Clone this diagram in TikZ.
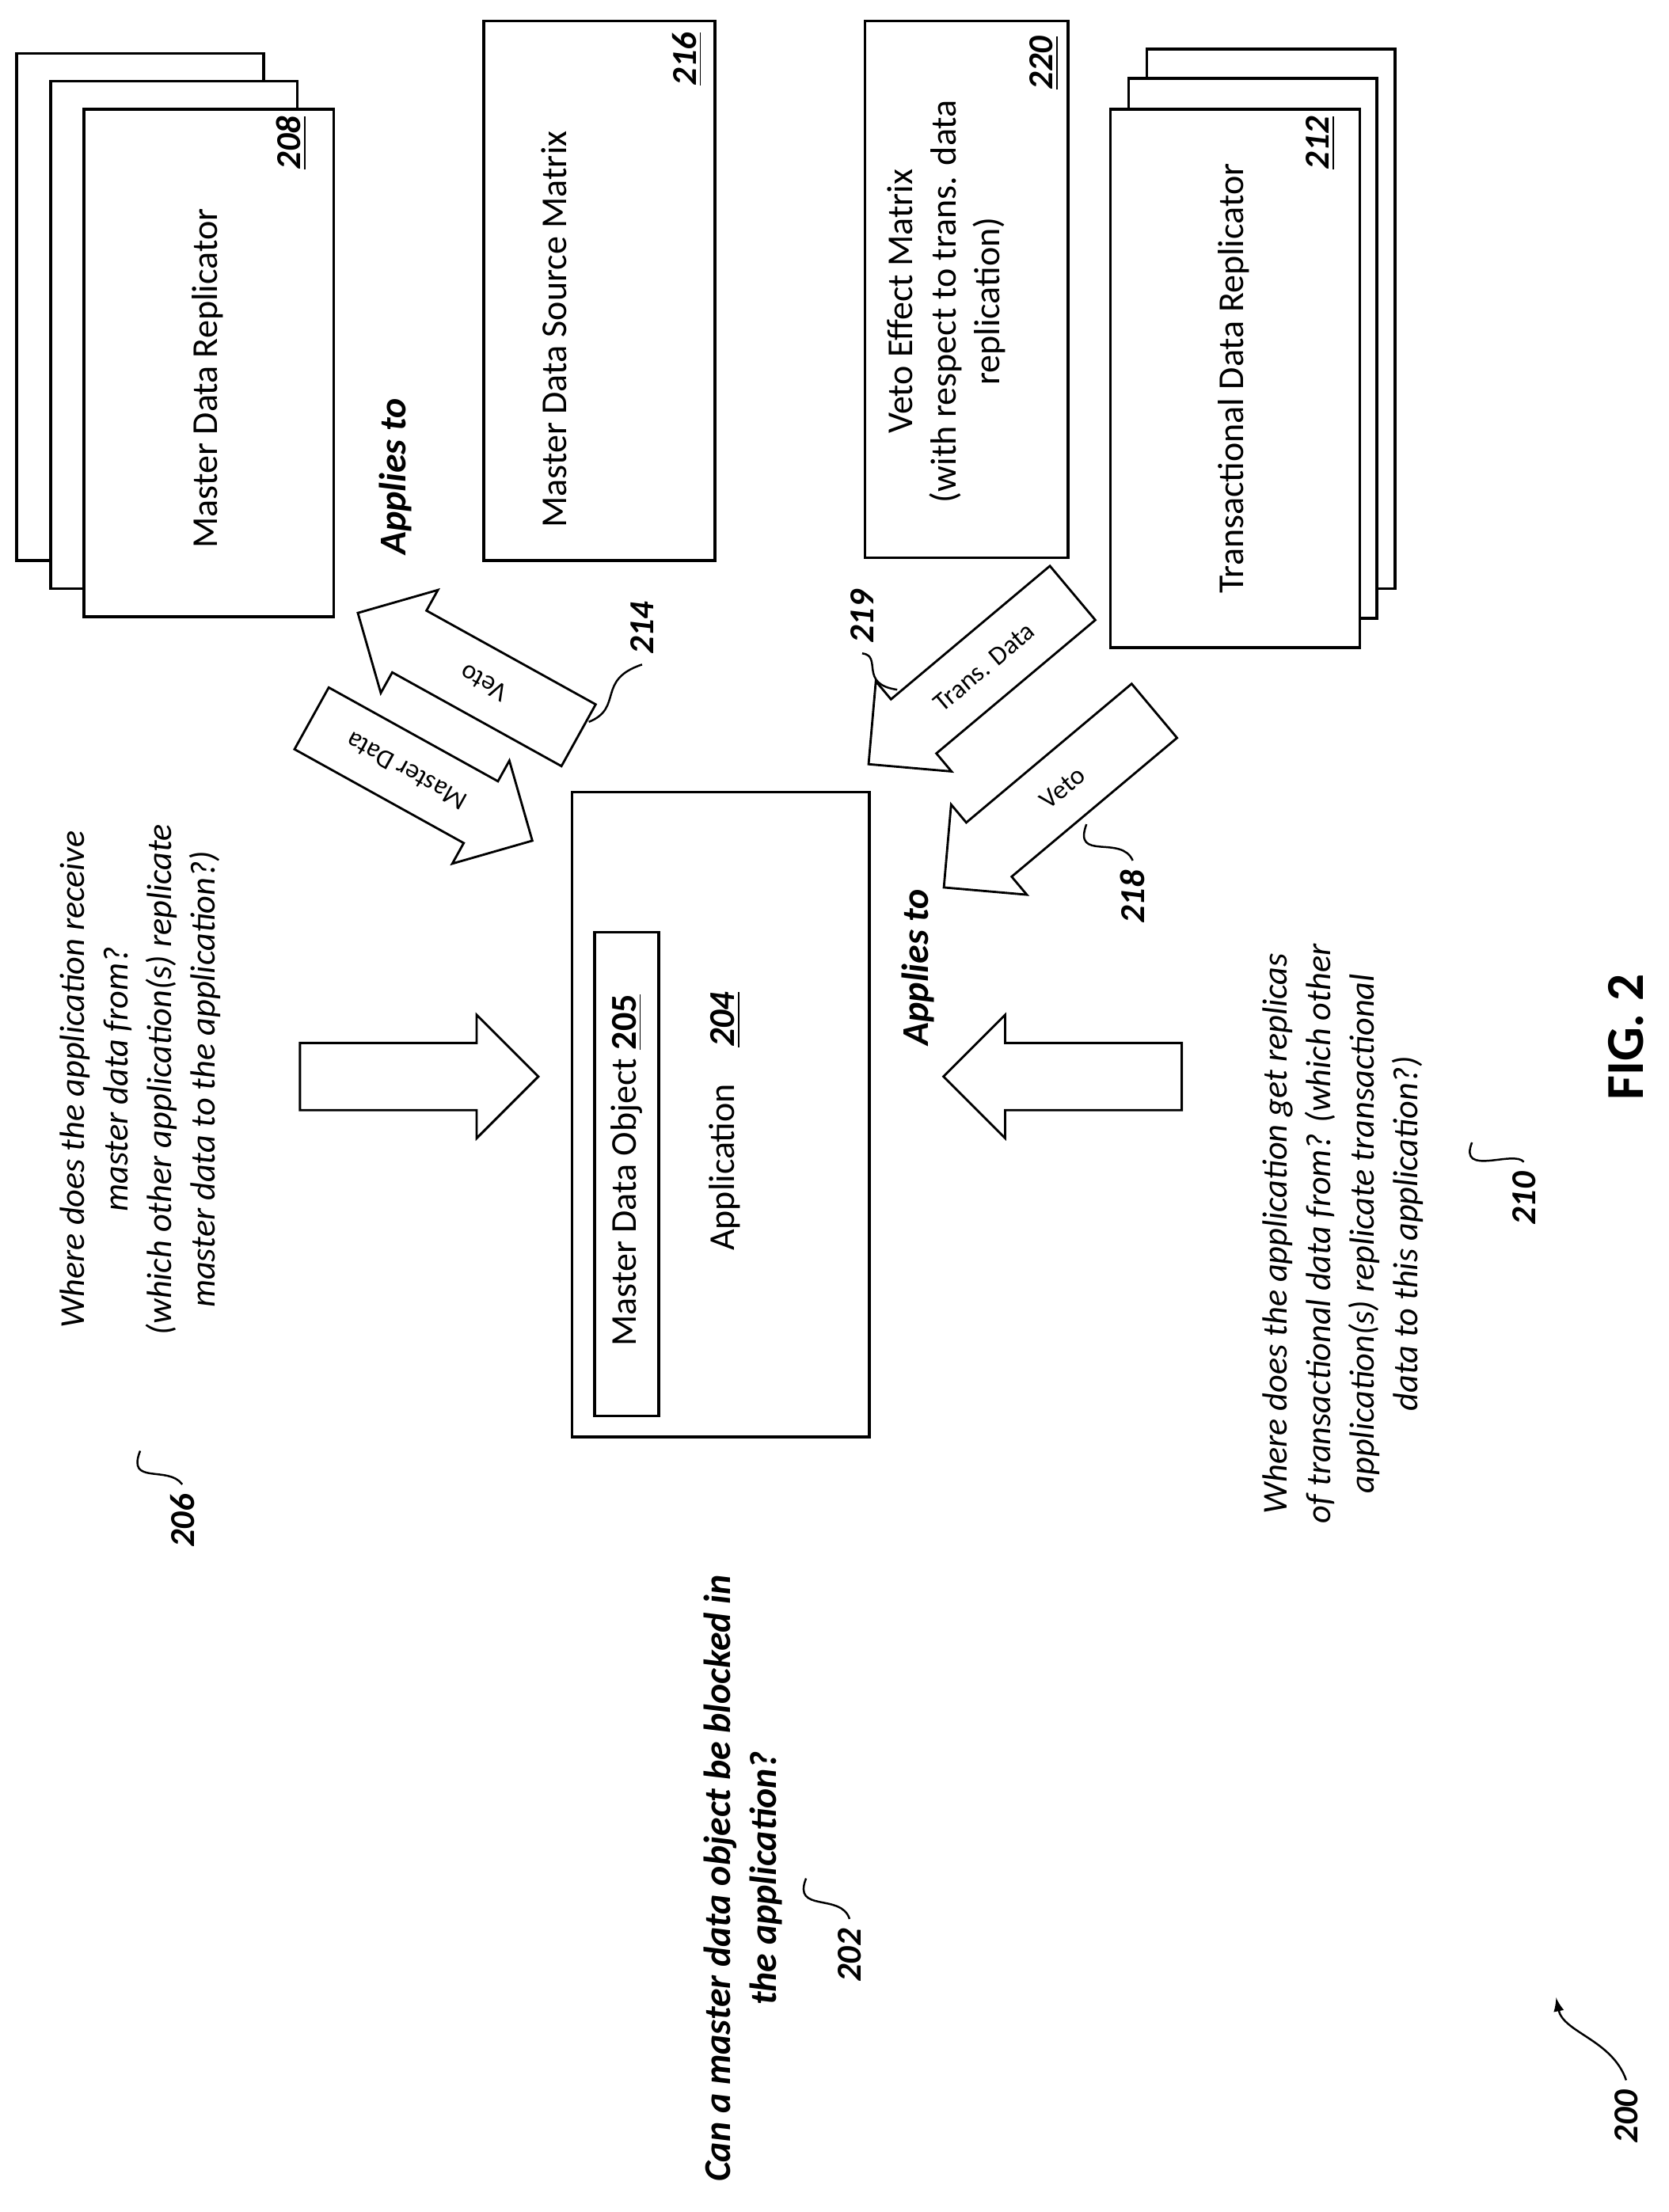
\documentclass[tikz,border=0pt]{standalone}
\usepackage{fontspec}
\setmainfont{Carlito}
\usetikzlibrary{shapes.arrows}
\begin{document}
\begin{tikzpicture}[x=0.5pt,y=-0.5pt,
 box/.style={draw,line width=1pt,fill=white},
 txt/.style={font=\fontsize{13}{15.5}\selectfont,rotate=90,align=center},
 q/.style={font=\fontsize{12.5}{15.5}\selectfont\itshape,rotate=90,align=center},
 ref/.style={font=\fontsize{12.5}{14}\selectfont\bfseries\itshape,rotate=90},
 barrow/.style={single arrow,draw,line width=0.8pt,fill=white,single arrow head extend=7pt,inner ysep=7pt,inner xsep=4pt,font=\fontsize{9.5}{11}\selectfont,anchor=center},
 sq/.style={line width=0.7pt}]
\useasboundingbox (0,0) rectangle (1190,1578);
% stack 208
\draw[box] (12,38) rectangle (188,400);
\draw[box] (36,58) rectangle (212,420);
\draw[box] (60,78) rectangle (238,440);
\node[txt] (t208) at (148,270) {Master Data Replicator};
\node[ref] (n208) at (208,102) {\underline{208}};
% 216
\draw[box] (345,15) rectangle (510,400);
\node[txt] (t216) at (395,235) {Master Data Source Matrix};
\node[ref] (n216) at (490,42) {\underline{216}};
% 220
\draw[box] (617,15) rectangle (762,398);
\node[txt] (t220) at (675,215) {Veto Effect Matrix\\(with respect to trans. data\\replication)};
\node[ref] (n220) at (745,45) {\underline{220}};
% stack 212
\draw[box] (818,35) rectangle (995,420);
\draw[box] (805,56) rectangle (982,441);
\draw[box] (792,78) rectangle (970,462);
\node[txt] (t212) at (880,270) {Transactional Data Replicator};
\node[ref] (n212) at (942,102) {\underline{212}};
% application
\draw[box] (408,565) rectangle (620,1025);
\draw[box] (424,665) rectangle (470,1010);
\node[txt] (t205) at (447,835) {Master Data Object \textbf{\underline{205}}};
\node[txt] (t204) at (517,800) {Application\quad \textbf{\textit{\underline{204}}}};
% block arrows
\node[barrow,rotate=151,shape border rotate=180,minimum height=90pt,minimum width=42pt] (a1) at (290,550) {Master Data};
\node[barrow,rotate=151,minimum height=90pt,minimum width=42pt] (a2) at (345,487) {Veto};
\node[barrow,rotate=40,shape border rotate=180,minimum height=95pt,minimum width=42pt] (a3) at (702,476) {Trans. Data};
\node[barrow,rotate=40,shape border rotate=180,minimum height=98pt,minimum width=42pt] (a4) at (758,562) {Veto};
\node[barrow,minimum height=85pt,minimum width=44pt,inner ysep=8pt] (a5) at (287,768) {};
\node[barrow,shape border rotate=180,minimum height=85pt,minimum width=44pt,inner ysep=8pt] (a6) at (770,768) {};
% applies to
\node[ref,font=\fontsize{13.5}{15}\selectfont\bfseries\itshape] (ap1) at (282,340) {Applies to};
\node[ref,font=\fontsize{13.5}{15}\selectfont\bfseries\itshape] (ap2) at (655,690) {Applies to};
% questions
\node[q] (q206) at (100,770) {Where does the application receive\\master data from?\\(which other application(s) replicate\\master data to the application?)};
\node[q] (q210) at (958,880) {Where does the application get replicas\\of transactional data from? (which other\\application(s) replicate transactional\\data to this application?)};
\node[q,font=\fontsize{13.5}{16.5}\selectfont\bfseries\itshape] (q202) at (530,1340) {Can a master data object be blocked in\\the application?};
\node[rotate=90,font=\fontsize{19}{20}\selectfont\bfseries] (fig) at (1160,740) {FIG. 2};
% ref labels
\node[ref] (n206) at (130,1085) {206};
\node[ref] (n202) at (606,1395) {202};
\node[ref] (n214) at (458,448) {214};
\node[ref] (n219) at (615,440) {219};
\node[ref] (n218) at (808,640) {218};
\node[ref] (n210) at (1087,855) {210};
\node[ref] (n200) at (1160,1510) {200};
% squiggles
\coordinate (s206) at (100,1035);
\draw[sq] (s206) .. controls (90,1060) and (120,1045) .. (n206.east);
\coordinate (s202) at (575,1340);
\draw[sq] (s202) .. controls (565,1365) and (600,1350) .. (n202.east);
\coordinate (s214) at (420,515);
\draw[sq] (s214) .. controls (445,505) and (425,485) .. (n214.west);
\coordinate (s219) at (640,492);
\draw[sq] (s219) .. controls (612,488) and (630,468) .. (n219.west);
\coordinate (s218) at (775,588);
\draw[sq] (s218) .. controls (765,615) and (800,595) .. (n218.east);
\coordinate (s210) at (1050,815);
\draw[sq] (s210) .. controls (1040,840) and (1080,820) .. (n210.east);
\coordinate (s200) at (1110,1425);
\draw[sq,-latex] (n200.east) .. controls (1150,1455) and (1115,1450) .. (s200);
\end{tikzpicture}
\end{document}
